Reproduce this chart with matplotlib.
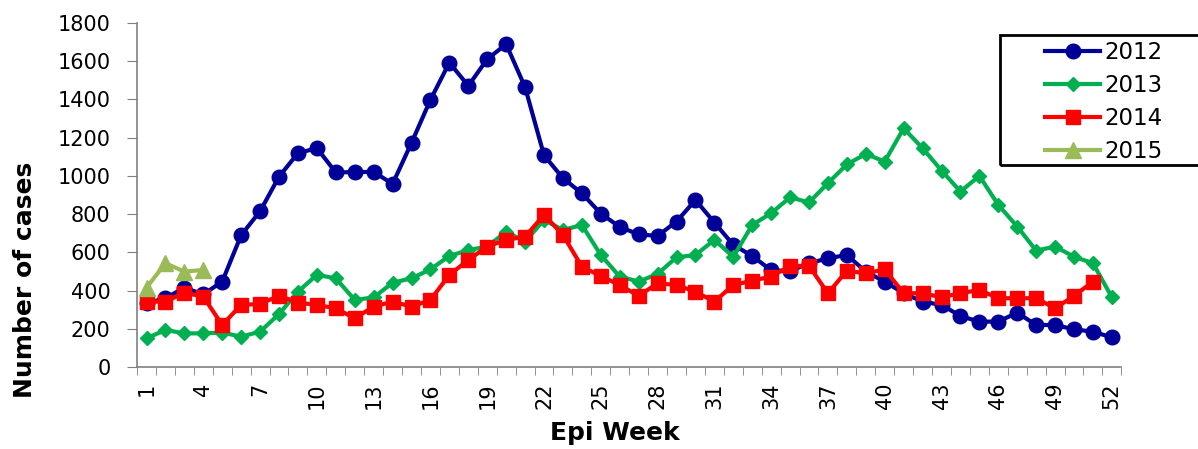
import numpy as np
import matplotlib
matplotlib.use("Agg")
import matplotlib.pyplot as plt
from matplotlib.patches import Rectangle

plt.rcParams['font.family'] = ['DejaVu Sans']

weeks = list(range(1, 53))
cases_2012 = [333, 360, 415, 380, 447, 690, 815, 996, 1119, 1145,
              1018, 1020, 1021, 958, 1173, 1398, 1593, 1471, 1611, 1689,
              1464, 1108, 988, 909, 803, 733, 694, 686, 761, 874,
              756, 639, 581, 506, 502, 543, 569, 586, 499, 447,
              386, 342, 325, 267, 237, 238, 284, 220, 220, 197,
              185, 155]
cases_2013 = [150, 194, 176, 176, 180, 159, 185, 277, 394, 482,
              464, 351, 364, 441, 464, 511, 581, 612, 630, 708,
              656, 770, 717, 743, 586, 473, 447, 487, 574, 586,
              665, 577, 743, 805, 888, 861, 962, 1060, 1115, 1075,
              1249, 1145, 1028, 918, 1000, 848, 735, 609, 630, 577,
              543, 365]
cases_2014 = [342, 342, 389, 368, 220, 325, 330, 373, 337, 325,
              307, 255, 316, 342, 316, 351, 482, 560, 630, 665,
              682, 796, 691, 525, 476, 429, 372, 438, 429, 394,
              342, 429, 452, 473, 529, 529, 386, 504, 490, 511,
              386, 386, 365, 386, 403, 360, 360, 360, 307, 372,
              447]
cases_2015 = [415, 543, 499, 508]

series = [
    ('2012', cases_2012, '#000099', 'o', 10.5),
    ('2013', cases_2013, '#00B050', 'D', 7.5),
    ('2014', cases_2014, '#FF0000', 's', 10),
    ('2015', cases_2015, '#9BBB59', '^', 11),
]

fig = plt.figure(figsize=(11.98, 4.49), dpi=100)
ax = fig.add_axes([0.1144, 0.1826, 0.8216, 0.7662])

for name, vals, col, mk, ms in series:
    ax.plot(weeks[:len(vals)], vals, color=col, marker=mk, markersize=ms,
            linewidth=3, label=name, clip_on=False)

ax.set_xlim(0.5, 52.5)
ax.set_ylim(0, 1800)
ax.set_yticks(np.arange(0, 1801, 200))
ax.set_xticks(weeks[::3])
ax.set_xticks(np.arange(0.5, 53, 1), minor=True)
ax.tick_params(axis='x', which='major', length=0, labelsize=15, labelrotation=90, pad=11)
ax.tick_params(axis='x', which='minor', length=6, color='#808080')
ax.tick_params(axis='y', length=7, color='#808080', labelsize=15, pad=12)

for s in ['top', 'right']:
    ax.spines[s].set_visible(False)
for s in ['left', 'bottom']:
    ax.spines[s].set_color('#808080')
    ax.spines[s].set_linewidth(1.2)

ax.set_ylabel('Number of cases', fontsize=18, fontweight='bold')
ax.yaxis.set_label_coords(-0.1016, 0.253)
ax.set_xlabel('Epi Week', fontsize=18, fontweight='bold')
ax.xaxis.set_label_coords(0.4858, -0.157)

# legend box runs off the right edge like the original
W, H = 1198, 449
fig.patches.append(Rectangle((1000 / W, 1 - 165 / H), 210 / W, 130 / H,
                             transform=fig.transFigure, fill=False,
                             edgecolor='black', linewidth=2))
ax.legend(loc='upper left', bbox_to_anchor=(1045 / W, 1 - 41 / H),
          bbox_transform=fig.transFigure, frameon=False, fontsize=16.5,
          handlelength=2.4, handletextpad=0.18, labelspacing=0.44,
          borderaxespad=0, borderpad=0)

fig.savefig('out.png', dpi=100)
